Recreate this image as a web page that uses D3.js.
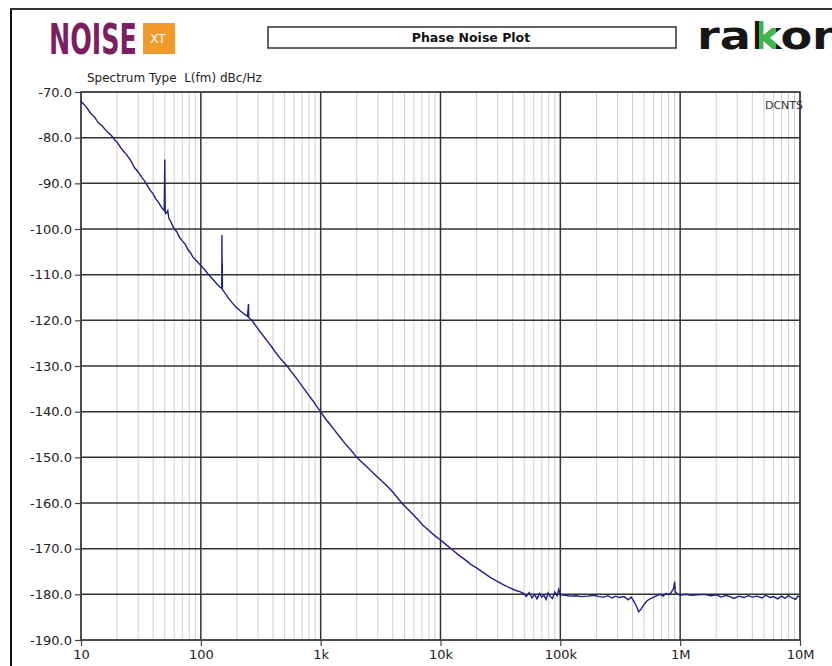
<!DOCTYPE html>
<html>
<head>
<meta charset="utf-8">
<script src="https://cdn.jsdelivr.net/npm/d3@7"></script>
<style>
  body { margin: 0; background: #fff; }
  svg { display: block; }
</style>
</head>
<body>
<script>
// phase noise trace (Hz, dBc/Hz)
var freqHz = [
  10, 11, 12, 13, 14, 15, 16, 17, 18, 19, 20, 22, 24, 26, 28, 30, 32, 34, 36, 38,
  40, 42, 44, 46, 48, 49.5, 50, 50.2, 50.4, 51, 52, 53, 54, 56, 58, 60, 63, 66, 70, 74,
  78, 82, 86, 90, 95, 100, 105, 110, 115, 120, 126, 132, 138, 144, 149.5, 150, 150.3, 151, 151.5, 156,
  163, 170, 178, 186, 195, 205, 215, 225, 235, 245, 250, 251, 258, 267, 280, 295, 310, 330, 350, 370,
  395, 420, 450, 480, 525, 560, 600, 640, 690, 740, 800, 860, 930, 1000, 1100, 1200, 1300, 1450, 1600, 1800,
  2000, 2500, 3000, 3500, 4000, 4750, 5500, 6300, 7100, 8000, 9000, 10000, 11000, 12500, 14000, 16000, 18000, 20000, 23000, 26000,
  30000, 34000, 38000, 42000, 46000, 50000, 52000, 55000, 58000, 61000, 64000, 67000, 70000, 73000, 76000, 79000, 82000, 86000, 90000, 94000,
  97000, 100000, 110000, 120000, 135000, 150000, 170000, 190000, 210000, 230000, 250000, 270000, 290000, 310000, 340000, 370000, 390000, 410000, 430000, 450000,
  470000, 500000, 530000, 560000, 600000, 640000, 680000, 720000, 760000, 800000, 840000, 880000, 900000, 910000, 950000, 1000000, 1100000, 1250000, 1400000, 1600000,
  1800000, 2000000, 2200000, 2400000, 2600000, 2800000, 3100000, 3400000, 3700000, 4000000, 4400000, 4800000, 5200000, 5600000, 6000000, 6500000, 7000000, 7500000, 8000000, 8600000,
  9200000, 9600000, 10000000
];
var phaseNoise = [
  -72.0, -73.2, -74.6, -75.5, -76.8, -77.4, -78.3, -79.0, -79.6, -80.4, -81.0, -82.6, -83.7, -85.0, -86.6, -87.5, -88.6, -89.5, -90.6, -91.6,
  -92.3, -93.4, -94.0, -94.9, -95.6, -96.0, -84.8, -90.0, -95.8, -96.6, -96.4, -96.0, -97.6, -98.3, -99.2, -100.0, -100.6, -101.7, -102.6, -103.3,
  -104.5, -105.2, -106.2, -106.7, -107.4, -108.0, -108.6, -109.2, -109.9, -110.4, -111.0, -111.6, -112.2, -112.7, -113.0, -101.3, -107.4, -107.6, -113.3, -113.7,
  -114.4, -115.2, -115.8, -116.4, -117.0, -117.5, -118.0, -118.4, -118.8, -119.1, -116.4, -119.3, -119.7, -120.0, -120.8, -121.6, -122.4, -123.3, -124.2, -125.0,
  -126.0, -127.0, -128.0, -128.9, -130.0, -131.0, -132.0, -133.0, -134.2, -135.3, -136.5, -137.6, -138.9, -140.0, -141.6, -142.8, -144.0, -145.6, -147.0, -148.5,
  -150.0, -152.4, -154.4, -156.0, -157.6, -160.0, -161.7, -163.3, -164.8, -166.0, -167.2, -168.1, -169.0, -170.2, -171.3, -172.4, -173.5, -174.2, -175.3, -176.3,
  -177.2, -178.0, -178.6, -179.1, -179.4, -179.9, -180.5, -179.6, -180.8, -180.0, -181.0, -179.8, -180.6, -180.2, -181.1, -179.7, -180.4, -180.9, -179.5, -180.3,
  -178.9, -180.1, -180.2, -180.4, -180.3, -180.5, -180.4, -180.2, -180.5, -180.6, -180.3, -180.8, -180.4, -180.7, -180.5, -181.2, -180.6, -181.5, -182.5, -183.8,
  -183.3, -182.2, -181.4, -181.0, -180.6, -180.3, -180.0, -180.4, -179.8, -180.1, -179.6, -178.8, -177.2, -179.5, -179.9, -180.2, -180.0, -180.2, -180.1, -180.0,
  -180.3, -180.1, -180.6, -180.2, -180.5, -180.9, -180.4, -180.7, -180.3, -180.6, -180.4, -180.8, -180.2, -180.7, -180.5, -181.0, -180.4, -180.9, -180.3, -180.8,
  -181.1, -180.4, -180.6
];

var yTicks = [-70, -80, -90, -100, -110, -120, -130, -140, -150, -160, -170, -180, -190];
var xTicks = [10, 100, 1e3, 1e4, 1e5, 1e6, 1e7];
var xTickLabels = ["10", "100", "1k", "10k", "100k", "1M", "10M"];

var W = 832, H = 666;
var pLeft = 81, pRight = 800, pTop = 92, pBottom = 640;

var svg = d3.select("body").append("svg")
    .attr("width", W)
    .attr("height", H)
    .style("font-family", "DejaVu Sans, Verdana, sans-serif");

var x = d3.scaleLog().domain([10, 1e7]).range([pLeft, pRight]);
var y = d3.scaleLinear().domain([-190, -70]).range([pBottom, pTop]);

// outer frame
svg.append("line").attr("x1", 11).attr("x2", 11).attr("y1", 8).attr("y2", H)
    .attr("stroke", "#111").attr("stroke-width", 2);
svg.append("line").attr("x1", 10).attr("x2", W).attr("y1", 9).attr("y2", 9)
    .attr("stroke", "#333").attr("stroke-width", 2);

// NOISE XT logo, squeezed to fit 88px wide
var noise = svg.append("text")
    .style("font-family", "DejaVu Sans Condensed, DejaVu Sans, sans-serif")
    .style("font-weight", "bold").style("font-size", "30px")
    .style("fill", "#7b1f62")
    .text("NOISE");
var nw = noise.node().getComputedTextLength();
noise.attr("transform", "translate(49,54) scale(" + (88 / nw) + ",1.4)");

svg.append("rect").attr("x", 143).attr("y", 23).attr("width", 32).attr("height", 31)
    .attr("fill", "#f19a2c");
svg.append("text")
    .attr("x", 158).attr("y", 43).attr("text-anchor", "middle")
    .style("font-size", "12px").style("fill", "#fff")
    .text("XT");

// title box
svg.append("rect").attr("x", 268).attr("y", 27).attr("width", 408).attr("height", 21)
    .attr("fill", "#fff").attr("stroke", "#333").attr("stroke-width", 1.5);
svg.append("text")
    .attr("x", 471).attr("y", 42).attr("text-anchor", "middle")
    .style("font-size", "12.5px").style("font-weight", "bold").style("fill", "#111")
    .text("Phase Noise Plot");

// rakon logo, green arms on the k
svg.append("text")
    .attr("x", 697).attr("y", 49)
    .attr("textLength", 148).attr("lengthAdjust", "spacingAndGlyphs")
    .style("font-weight", "bold").style("font-size", "38px")
    .style("fill", "#161616")
    .text("rakon");
svg.append("clipPath").attr("id", "karms")
  .append("rect").attr("x", 759).attr("y", 15).attr("width", 17).attr("height", 40);
svg.append("text")
    .attr("x", 697).attr("y", 49)
    .attr("textLength", 148).attr("lengthAdjust", "spacingAndGlyphs")
    .attr("clip-path", "url(#karms)")
    .style("font-weight", "bold").style("font-size", "38px")
    .style("fill", "#3cb94a")
    .text("rakon");

svg.append("text")
    .attr("x", 87).attr("y", 82)
    .style("font-size", "12px").style("fill", "#222")
    .style("white-space", "pre")
    .text("Spectrum Type  L(fm) dBc/Hz");

// grid
var minor = [];
xTicks.slice(0, -1).forEach(function(d) {
  for (var k = 2; k <= 9; k++) minor.push(d * k);
});

svg.append("g").selectAll("line").data(minor).enter().append("line")
    .attr("x1", function(d) { return x(d); }).attr("x2", function(d) { return x(d); })
    .attr("y1", pTop).attr("y2", pBottom)
    .attr("stroke", "#cfcfcf").attr("stroke-width", 1);

svg.append("g").selectAll("line").data(yTicks).enter().append("line")
    .attr("x1", pLeft).attr("x2", pRight)
    .attr("y1", function(d) { return y(d); }).attr("y2", function(d) { return y(d); })
    .attr("stroke", "#333").attr("stroke-width", 1.5);

svg.append("g").selectAll("line").data(xTicks).enter().append("line")
    .attr("x1", function(d) { return x(d); }).attr("x2", function(d) { return x(d); })
    .attr("y1", pTop).attr("y2", pBottom)
    .attr("stroke", "#333").attr("stroke-width", 1.5);

svg.append("rect").attr("x", pLeft).attr("y", pTop)
    .attr("width", pRight - pLeft).attr("height", pBottom - pTop)
    .attr("fill", "none").attr("stroke", "#444").attr("stroke-width", 1.5);

// axes
var yAxis = svg.append("g")
    .attr("transform", "translate(" + pLeft + ",0)")
    .call(d3.axisLeft(y).tickValues(yTicks).tickSize(6).tickPadding(3)
      .tickFormat(function(d) { return d.toFixed(1); }));
var xAxis = svg.append("g")
    .attr("transform", "translate(0," + pBottom + ")")
    .call(d3.axisBottom(x).tickValues(xTicks).tickSize(6).tickPadding(4)
      .tickFormat(function(d, i) { return xTickLabels[i]; }));

[yAxis, xAxis].forEach(function(a) {
  a.select(".domain").remove();
  a.selectAll(".tick line").attr("stroke", "#444").attr("stroke-width", 1.2);
  a.selectAll(".tick text").style("font-size", "13px").style("fill", "#222")
    .style("font-family", "DejaVu Sans, Verdana, sans-serif");
});

svg.append("text")
    .attr("x", 803).attr("y", 109).attr("text-anchor", "end")
    .style("font-size", "11px").style("fill", "#333")
    .text("DCNTS");

// trace
svg.append("clipPath").attr("id", "plot")
  .append("rect").attr("x", pLeft).attr("y", pTop)
    .attr("width", pRight - pLeft).attr("height", pBottom - pTop);

var line = d3.line()
    .x(function(d, i) { return x(freqHz[i]); })
    .y(function(d) { return y(d); });

svg.append("path")
    .attr("clip-path", "url(#plot)")
    .attr("d", line(phaseNoise))
    .attr("fill", "none")
    .attr("stroke", "#1f1f86")
    .attr("stroke-width", 1.4);
</script>
</body>
</html>
